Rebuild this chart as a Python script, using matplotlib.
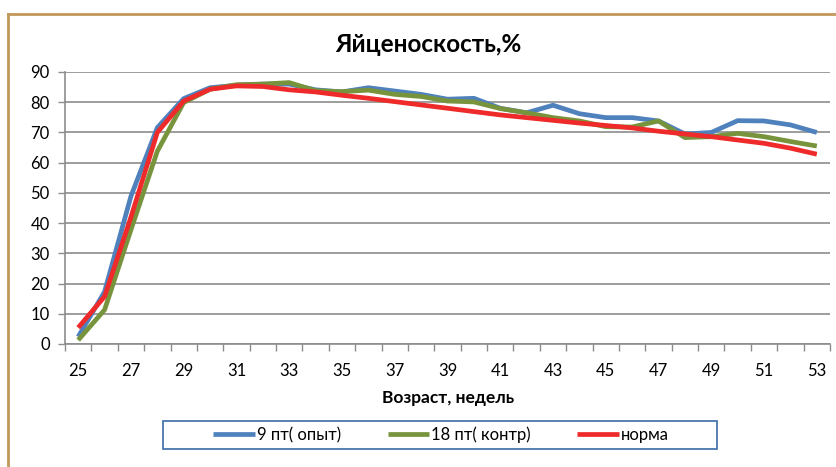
import numpy as np
import matplotlib.pyplot as plt
from matplotlib.patches import Rectangle
from matplotlib.lines import Line2D

# ----- Data -----
weeks = list(range(25, 54))
opyt_9 = [2.4, 17.3, 48.9, 71.6, 81.2, 84.8, 85.6, 86.0, 86.0, 84.1,
          83.4, 84.8, 83.7, 82.6, 81.0, 81.3, 78.0, 76.5, 79.0, 76.2,
          74.9, 74.9, 73.8, 69.5, 70.0, 73.9, 73.8, 72.5, 70.0]
kontr_18 = [1.3, 11.3, 37.8, 63.8, 79.9, 84.3, 85.8, 86.0, 86.5, 83.8,
            83.5, 84.0, 82.6, 81.9, 80.4, 80.1, 77.9, 76.5, 74.9, 73.8,
            71.9, 71.8, 73.8, 68.3, 68.6, 69.7, 68.6, 67.0, 65.5]
norma = [5.4, 15.7, 42.0, 70.0, 80.4, 84.3, 85.4, 85.2, 84.1, 83.4,
         82.3, 81.3, 80.2, 79.1, 78.0, 76.9, 75.8, 74.9, 74.0, 73.1,
         72.3, 71.5, 70.4, 69.5, 68.6, 67.5, 66.4, 64.8, 62.8]
labels = ["9 пт( опыт)", "18 пт( контр)", "норма"]
colors = ["#4F81BD", "#77933C", "#EE2A2A"]

plt.rcParams['font.family'] = ['Lato', 'DejaVu Sans']

fig = plt.figure(figsize=(8.37, 4.67), dpi=100)
ax = fig.add_axes([65 / 837, 1 - 344 / 467, (830 - 65) / 837, (344 - 72) / 467])

x = np.arange(len(weeks))
for ser, c, lab in zip([opyt_9, kontr_18, norma], colors, labels):
    ax.plot(x, ser, color=c, lw=3.4, label=lab, solid_capstyle='butt')

ax.set_xlim(-0.5, len(weeks) - 0.5)
ax.set_ylim(0, 90)
ax.set_yticks(range(0, 91, 10))
ax.yaxis.grid(True, color="#8C8C8C", lw=1.2)
ax.set_axisbelow(True)

ax.set_xticks(x[::2])
ax.set_xticklabels([str(w) for w in weeks[::2]])
ax.set_xticks(np.arange(-0.5, len(weeks), 1), minor=True)
ax.tick_params(axis='x', which='major', length=0, pad=14, labelsize=12)
ax.tick_params(axis='x', which='minor', length=5, color="#8C8C8C", width=1)
ax.tick_params(axis='y', length=5, color="#8C8C8C", width=1, labelsize=12, pad=6)

for s in ['top', 'right']:
    ax.spines[s].set_visible(False)
for s in ['left', 'bottom']:
    ax.spines[s].set_color("#8C8C8C")
    ax.spines[s].set_linewidth(1.2)

fig.text(428 / 837, 1 - 44 / 467, "Яйценоскость,%", ha='center', va='center',
         fontsize=17.5, fontweight='bold')
fig.text(448 / 837, 1 - 398 / 467, "Возраст, недель", ha='center', va='center',
         fontsize=12.5, fontweight='bold')

# outer frame (left and top only are visible)
fig.add_artist(Line2D([8 / 837, 8 / 837], [0, 1 - 14 / 467], color="#C0995A", lw=2))
fig.add_artist(Line2D([8 / 837, 1], [1 - 14 / 467, 1 - 14 / 467], color="#C0995A", lw=2))

# legend box
fig.add_artist(Rectangle((163 / 837, 1 - 449 / 467), (717 - 163) / 837, 28 / 467,
                         transform=fig.transFigure, fill=False, ec="#3A6BA8", lw=1.2))
leg = fig.legend(loc='center', bbox_to_anchor=(441 / 837, 1 - 435 / 467), ncol=3,
                 frameon=False, fontsize=12, handlelength=2.5, handletextpad=0.1,
                 columnspacing=2.8)

fig.savefig("out.png", dpi=100)
